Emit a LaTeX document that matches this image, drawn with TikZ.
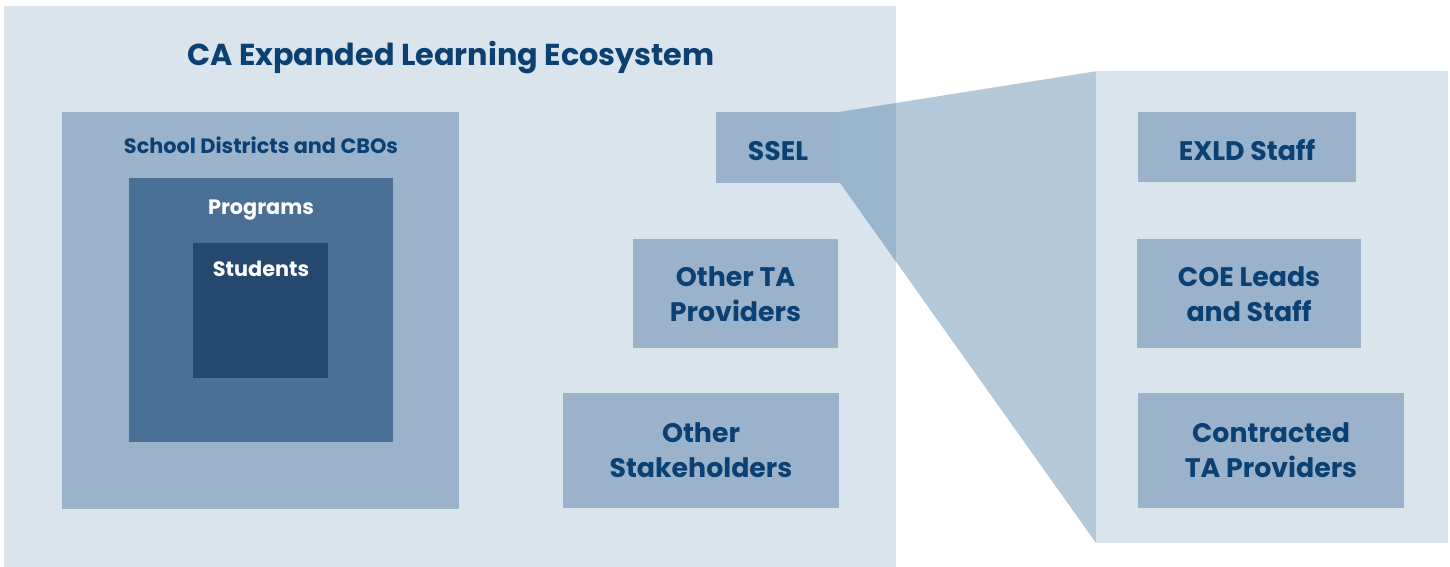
\documentclass[tikz,border=0pt]{standalone}
\usepackage{fontspec}
\setmainfont{Poppins}
\definecolor{panel}{HTML}{DAE4ED}
\definecolor{midbox}{HTML}{9AB3CA}
\definecolor{progbox}{HTML}{4B7096}
\definecolor{studbox}{HTML}{25486F}
\definecolor{navy}{HTML}{0B4072}
\definecolor{funnelc}{HTML}{14558A}
\tikzset{
  panelbox/.style={fill=panel, draw=none, inner sep=0pt},
  lightbox/.style={fill=midbox, draw=none, inner sep=0pt},
  progfill/.style={fill=progbox, draw=none, inner sep=0pt},
  studfill/.style={fill=studbox, draw=none, inner sep=0pt},
  bigtext/.style={text=navy, align=center, font=\bfseries\fontsize{26.8}{35}\selectfont, inner sep=0pt},
  smalltext/.style={text=navy, font=\bfseries\fontsize{20.8}{24}\selectfont, inner sep=0pt},
  whitetext/.style={text=white, font=\bfseries\fontsize{20.8}{24}\selectfont, inner sep=0pt},
  titletext/.style={text=navy, font=\bfseries\fontsize{30.3}{36}\selectfont, inner sep=0pt},
}
\begin{document}
\begin{tikzpicture}[x=1pt,y=-1pt]
\useasboundingbox (0,0) rectangle (1450,567);
% panels
\node[panelbox, minimum width=892pt, minimum height=561pt] (eco) at (450,286.5) {};
\node[panelbox, minimum width=352pt, minimum height=471pt] (zoompanel) at (1272,307) {};
\node[titletext] (title) at (451,58) {CA Expanded Learning Ecosystem};
% SSEL box
\node[lightbox, minimum width=124pt, minimum height=71pt] (ssel) at (778,147.5) {};
% funnel
\fill[funnelc, fill opacity=0.32] (ssel.north east) -- (zoompanel.north west) -- (zoompanel.south west) -- (ssel.south east) -- cycle;
\node[bigtext] (sseltext) at ([yshift=-3.5pt]ssel.center) {SSEL};
% nested boxes
\node[lightbox, minimum width=397pt, minimum height=397pt] (districts) at (260.5,310.5) {};
\node[progfill, minimum width=264pt, minimum height=264pt] (programs) at (261,310) {};
\node[studfill, minimum width=135pt, minimum height=135pt] (students) at (260.5,310.5) {};
\node[smalltext] (districtstext) at (261,145) {School Districts and CBOs};
\node[whitetext] (programstext) at (261,210) {Programs};
\node[whitetext] (studentstext) at (261,269) {Students};
% other boxes
\node[lightbox, minimum width=205pt, minimum height=109pt] (otherta) at (735.5,293.5) {};
\node[bigtext] at ([yshift=-1pt]otherta.center) {Other TA\\Providers};
\node[lightbox, minimum width=276pt, minimum height=115pt] (stake) at (701,450.5) {};
\node[bigtext] at (stake.center) {Other\\Stakeholders};
% right panel boxes
\node[lightbox, minimum width=218pt, minimum height=70pt] (exld) at (1247,147) {};
\node[bigtext] at ([yshift=-3.5pt]exld.center) {EXLD Staff};
\node[lightbox, minimum width=224pt, minimum height=109pt] (coe) at (1249,293.5) {};
\node[bigtext] at ([yshift=-1pt]coe.center) {COE Leads\\and Staff};
\node[lightbox, minimum width=266pt, minimum height=115pt] (contracted) at (1271,450.5) {};
\node[bigtext] at (contracted.center) {Contracted\\TA Providers};
\end{tikzpicture}
\end{document}
